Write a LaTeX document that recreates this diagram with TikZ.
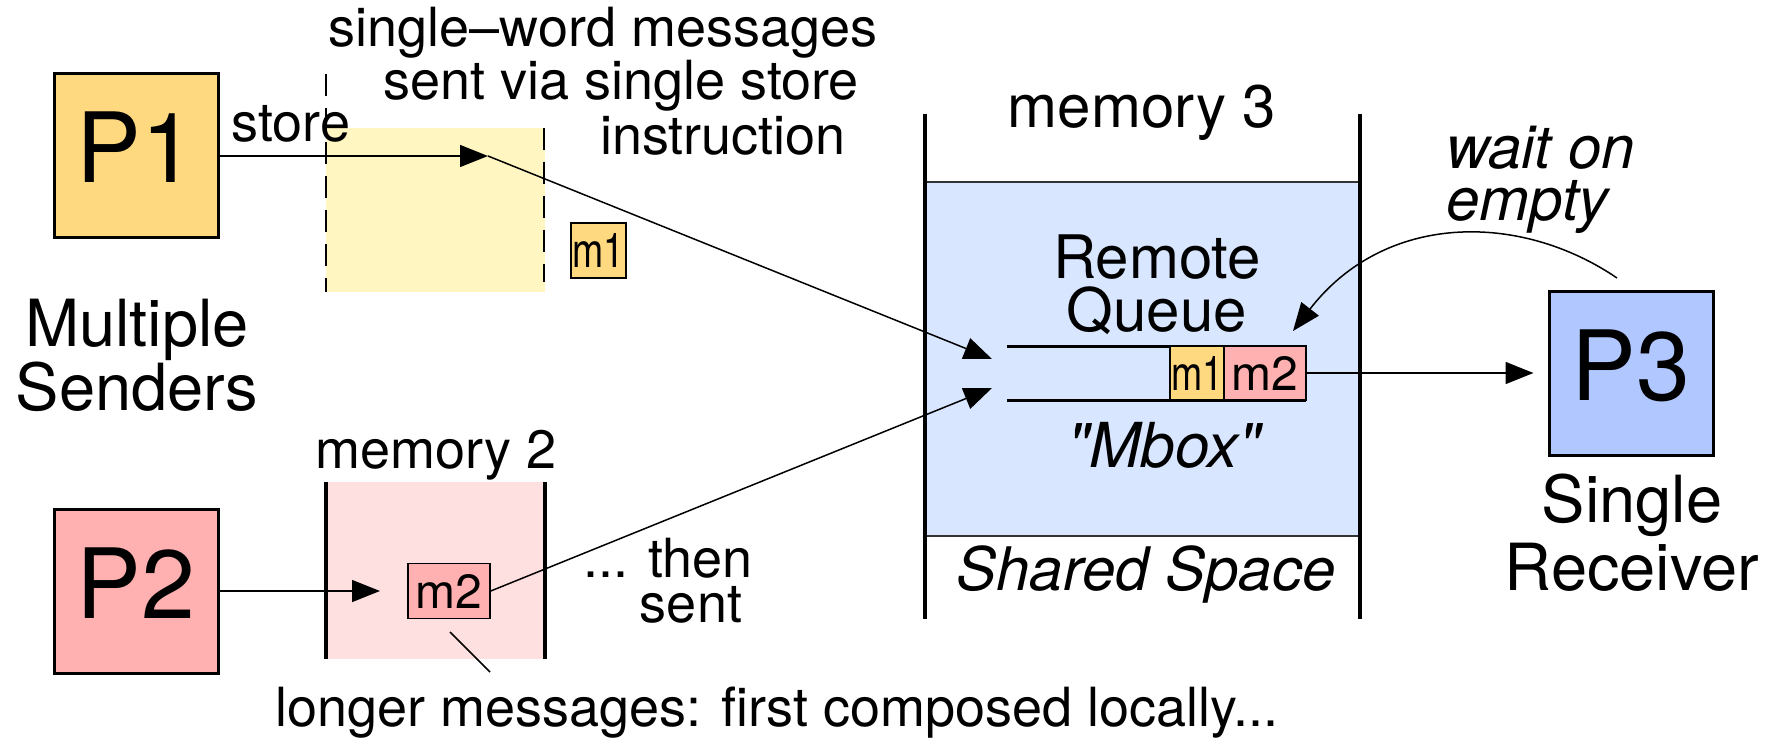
\documentclass[tikz,border=0pt]{standalone}
\usepackage{fontspec}
\setmainfont{TeX Gyre Heros}[Ligatures=TeXOff]
\usetikzlibrary{arrows.meta}
\definecolor{porange}{RGB}{255,217,128}
\definecolor{ppink}{RGB}{255,176,176}
\definecolor{pblue}{RGB}{176,200,255}
\definecolor{memblue}{RGB}{216,230,255}
\definecolor{mempink}{RGB}{255,224,224}
\definecolor{stageyel}{RGB}{255,246,194}
\newcommand\setfs[1]{\fontsize{#1}{#1}\selectfont}
\begin{document}
\begin{tikzpicture}[x=1pt,y=-1pt,
  txt/.style={inner sep=0pt, anchor=base},
  proc/.style={draw, line width=3pt, minimum width=164pt, minimum height=164pt,
    inner sep=0pt, font=\setfs{97}, text height=70pt, text depth=16pt},
  cell/.style={draw, line width=2pt, inner sep=0pt, minimum height=54pt, font=\setfs{48}},
  conn/.style={line width=1.5pt},
  tip/.style={-{Triangle[length=28pt,width=22pt]}},
  wall/.style={line width=4pt},
  dashwall/.style={line width=2pt, dash pattern=on 22pt off 12pt}]
\useasboundingbox (0,0) rectangle (1781,738);

% memory 3: shared space holding the mailbox
\fill[memblue] (925,182) rectangle (1360,536);
\draw[line width=2pt, black!80] (925,182) -- (1360,182) (925,536) -- (1360,536);
\draw[wall] (925,114) -- (925,619) (1360,114) -- (1360,619);

% memory 2: local composition area
\fill[mempink] (326,482) rectangle (545,659);
\draw[wall] (326,482) -- (326,659) (545,482) -- (545,659);

% transient store area
\fill[stageyel] (326,128) rectangle (545,292);
\draw[dashwall] (326,74) -- (326,292);
\draw[dashwall] (544,128) -- (544,282);

% processors
\node[proc, fill=porange] (P1) at (136,156) {P1};
\node[proc, fill=ppink] (P2) at (136,591) {P2};
\node[proc, fill=pblue] (P3) at (1631,373) {P3};

% remote queue
\draw[line width=3pt] (1007,346) -- (1306,346);
\draw[line width=3pt] (1007,400) -- (1306,400);
\node[cell, fill=porange, minimum width=54pt] (qm1) at (1197,373) {\scalebox{0.78}[1]{m1}};
\node[cell, fill=ppink, minimum width=82pt] (qm2) at (1265,373) {m2};

% messages
\node[cell, fill=porange, minimum width=55pt, minimum height=55pt, line width=1.5pt] (sm1) at (598.5,250.5) {\scalebox{0.78}[1]{m1}};
\node[cell, fill=ppink, minimum width=82pt, minimum height=55pt, line width=1.5pt] (lm2) at (449,591) {m2};

% free ends of connectors
\coordinate (drop) at (488,156);
\coordinate (inA) at (992,359);
\coordinate (inB) at (992,388);
\coordinate (local) at (380,591);
\coordinate (wake) at (1617,278);
\coordinate (qtop) at (1293,331);
\coordinate (noteA) at (450,632);
\coordinate (noteB) at (490,672);

% connectors
\draw[conn,tip] (P1.east) -- (drop);
\draw[conn,tip] (drop) -- (inA);
\draw[conn,tip] (P2.east) -- (local);
\draw[conn,tip] (lm2.east) -- (inB);
\draw[conn,tip,shorten >=14pt] (qm2.east) -- (P3.west);
\draw[conn,tip] (wake) .. controls (1520,212) and (1385,212) .. (qtop);
\draw[conn] (noteA) -- (noteB);

% labels
\node[txt, font=\setfs{54}] (sw1) at (603,47) {single–word messages};
\node[txt, font=\setfs{54}] (sw2) at (621,100) {sent via single store};
\node[txt, font=\setfs{54}] (sw3) at (723,155) {instruction};
\node[txt, font=\setfs{54}] (st) at (291,142) {store};
\node[txt, font=\setfs{65}] (ms1) at (137,346) {Multiple};
\node[txt, font=\setfs{65}] (ms2) at (137,410) {Senders};
\node[txt, font=\setfs{60}] (mem3) at (1142,128) {memory 3};
\node[txt, font=\setfs{60}] (rq1) at (1157,278) {Remote};
\node[txt, font=\setfs{60}] (rq2) at (1157,331) {Queue};
\node[txt, font=\setfs{62}\itshape] (mbox) at (1164,467) {"Mbox"};
\node[txt, font=\setfs{60}\itshape] (shs) at (1146,590) {Shared Space};
\node[txt, anchor=base west, font=\setfs{60}\itshape] (wo1) at (1446,169) {wait on};
\node[txt, anchor=base west, font=\setfs{60}\itshape] (wo2) at (1446,221) {empty};
\node[txt, font=\setfs{65}] (sr1) at (1632,522) {Single};
\node[txt, font=\setfs{65}] (sr2) at (1632,590) {Receiver};
\node[txt, font=\setfs{54}] (mem2) at (436,468) {memory 2};
\node[txt, font=\setfs{54}] (ts1) at (668,577) {... then};
\node[txt, font=\setfs{54}] (ts2) at (691,622) {sent};
\node[txt, font=\setfs{54}] (lm) at (777,726) {longer messages: first composed locally...};
\end{tikzpicture}
\end{document}
